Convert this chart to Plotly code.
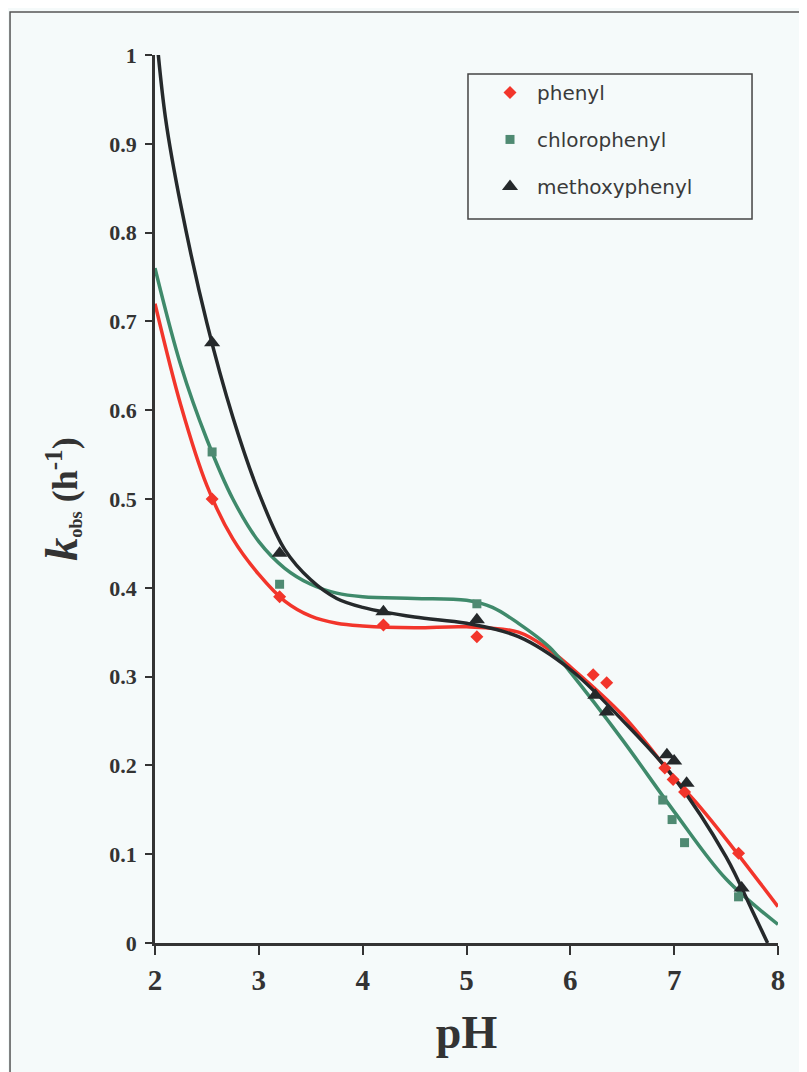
import plotly.graph_objects as go

# ---- measured points ----
phenyl_x = [2.55, 3.2, 4.2, 5.1, 6.22, 6.35, 6.91, 6.99, 7.1, 7.62]
phenyl_y = [0.500, 0.390, 0.358, 0.345, 0.302, 0.293, 0.197, 0.184, 0.170, 0.101]

chloro_x = [2.55, 3.2, 5.1, 6.89, 6.98, 7.1, 7.62]
chloro_y = [0.553, 0.404, 0.382, 0.161, 0.139, 0.113, 0.052]

methoxy_x = [2.55, 3.2, 4.2, 5.1, 6.24, 6.35, 6.93, 7.0, 7.12, 7.65]
methoxy_y = [0.676, 0.439, 0.373, 0.364, 0.279, 0.260, 0.212, 0.205, 0.180, 0.062]

# ---- fitted curves ----
phenyl_fit_x = [2.0, 2.25, 2.5, 2.75, 3.0, 3.25, 3.5, 3.75, 4.0, 4.5, 5.0, 5.5, 5.8, 6.0, 6.5, 7.0, 7.25, 7.5, 8.0]
phenyl_fit_y = [0.72, 0.605, 0.515, 0.455, 0.415, 0.385, 0.368, 0.360, 0.357, 0.355, 0.356, 0.350, 0.330, 0.311, 0.257, 0.186, 0.153, 0.117, 0.041]

chloro_fit_x = [2.0, 2.25, 2.5, 2.75, 3.0, 3.25, 3.5, 3.75, 4.0, 4.5, 5.0, 5.25, 5.5, 5.8, 6.0, 6.5, 7.0, 7.5, 8.0]
chloro_fit_y = [0.76, 0.650, 0.567, 0.500, 0.452, 0.422, 0.404, 0.394, 0.390, 0.388, 0.386, 0.378, 0.360, 0.333, 0.305, 0.229, 0.148, 0.072, 0.021]

methoxy_fit_x = [2.0, 2.1, 2.25, 2.5, 2.75, 3.0, 3.25, 3.5, 3.75, 4.0, 4.5, 5.0, 5.5, 6.0, 6.5, 7.0, 7.5, 7.75, 7.9]
methoxy_fit_y = [1.04, 0.93, 0.83, 0.698, 0.592, 0.507, 0.443, 0.409, 0.388, 0.378, 0.367, 0.360, 0.345, 0.308, 0.251, 0.186, 0.097, 0.037, 0.0]

series_names = ["phenyl", "chlorophenyl", "methoxyphenyl"]
x_ticks = [2, 3, 4, 5, 6, 7, 8]
y_ticks = [0, 0.1, 0.2, 0.3, 0.4, 0.5, 0.6, 0.7, 0.8, 0.9, 1]

RED = "#f2352b"
GREEN = "#3f8a6b"
BLACK = "#25292b"
BG = "#f5fafa"
INK = "#333333"

fig = go.Figure()

# fitted curves
for fx, fy, col in [(phenyl_fit_x, phenyl_fit_y, RED),
                    (chloro_fit_x, chloro_fit_y, GREEN),
                    (methoxy_fit_x, methoxy_fit_y, BLACK)]:
    fig.add_trace(go.Scatter(x=fx, y=fy, mode="lines",
                             line=dict(color=col, width=3.5, shape="spline", smoothing=1.0),
                             showlegend=False, hoverinfo="skip"))

# points
fig.add_trace(go.Scatter(x=phenyl_x, y=phenyl_y, mode="markers", name=series_names[0],
                         legendgroup="a",
                         marker=dict(symbol="diamond", size=10, color=RED)))
fig.add_trace(go.Scatter(x=chloro_x, y=chloro_y, mode="markers", name=series_names[1],
                         legendgroup="b",
                         marker=dict(symbol="square", size=9, color="#4f8a72")))
fig.add_trace(go.Scatter(x=methoxy_x, y=methoxy_y, mode="markers", name=series_names[2],
                         legendgroup="c",
                         marker=dict(symbol="triangle-up", size=14, color=BLACK)))

fig.update_layout(
    width=799, height=1064,
    margin=dict(l=147, r=29, t=47, b=129),
    paper_bgcolor=BG, plot_bgcolor=BG,
    showlegend=True,
    legend=dict(x=0.5265, y=0.9798, xanchor="left", yanchor="top",
                bgcolor="rgba(0,0,0,0)", borderwidth=0,
                font=dict(family="DejaVu Sans", size=20, color="#3a3a3a"),
                itemwidth=44, tracegroupgap=18, traceorder="grouped"),
    xaxis=dict(range=[2, 8], tickvals=x_ticks,
               ticktext=["<b>%d</b>" % v for v in x_ticks],
               showgrid=False, zeroline=False,
               showline=True, linecolor=INK, linewidth=3,
               ticks="outside", ticklen=9, tickwidth=2, tickcolor=INK,
               tickfont=dict(family="Liberation Serif", size=29, color=INK),
               title=dict(text="<b>pH</b>", standoff=22,
                          font=dict(family="Liberation Serif", size=46, color=INK))),
    yaxis=dict(range=[0, 1], tickvals=y_ticks,
               ticktext=["<b>%g</b>" % v for v in y_ticks],
               showgrid=False, zeroline=False,
               showline=True, linecolor=INK, linewidth=2.5,
               ticks="outside", ticklen=7, tickwidth=2, tickcolor=INK,
               ticklabelstandoff=4,
               tickfont=dict(family="Liberation Serif", size=22, color=INK),
               title=dict(text="<b><i>k</i></b><span style='font-size:26px'><sub><b>obs</b></sub></span>"
                               "<span style='font-size:36px'><b> (h<sup>-1</sup>)</b></span>",
                          standoff=18,
                          font=dict(family="Liberation Serif", size=46, color=INK))),
    shapes=[
        # outer frame of the figure
        dict(type="rect", xref="paper", yref="paper",
             x0=-0.2327, x1=1.06, y0=-0.16, y1=1.0484,
             line=dict(color="#555555", width=1.5), fillcolor="rgba(0,0,0,0)",
             layer="below"),
        # legend frame
        dict(type="rect", xref="paper", yref="paper",
             x0=0.5024, x1=0.9583, y0=0.8153, y1=0.9786,
             line=dict(color="#444444", width=1.5), fillcolor="rgba(0,0,0,0)",
             layer="above"),
    ],
)

fig.write_html("out.html")
